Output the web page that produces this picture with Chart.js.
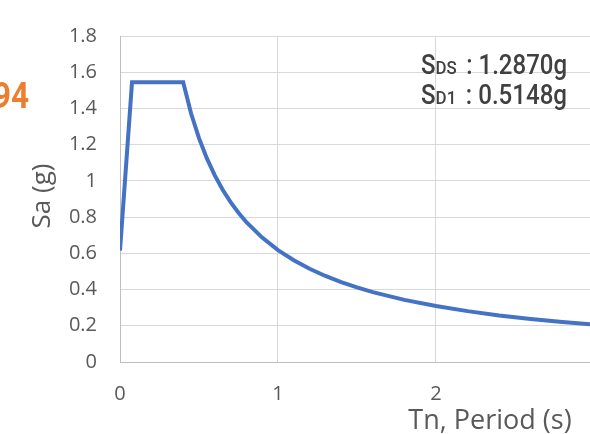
<!DOCTYPE html>
<html>
<head>
<meta charset="utf-8">
<script src="https://cdn.jsdelivr.net/npm/chart.js@4.4.1/dist/chart.umd.min.js"></script>
<style>
  html, body { margin: 0; padding: 0; background: #fff; overflow: hidden; }
  #wrap { width: 590px; height: 434px; position: relative; }
</style>
</head>
<body>
<div id="wrap"><canvas id="SpecChart"></canvas></div>
<script>
// design spectrum
const period = [0, 0.076, 0.40, 0.45, 0.50, 0.55, 0.60, 0.65, 0.70, 0.75, 0.80, 0.90, 1.0, 1.1, 1.2, 1.3, 1.4, 1.5, 1.6, 1.8, 2.0, 2.2, 2.4, 2.6, 2.8, 3.0];
const sa = [0.615, 1.544, 1.544, 1.372, 1.236, 1.124, 1.030, 0.951, 0.883, 0.824, 0.772, 0.687, 0.618, 0.562, 0.515, 0.475, 0.441, 0.412, 0.386, 0.343, 0.309, 0.281, 0.257, 0.238, 0.221, 0.206];
const yTicks = [0, 0.2, 0.4, 0.6, 0.8, 1, 1.2, 1.4, 1.6, 1.8];
const xTicks = [0, 1, 2];
const noteLines = [
	["S", "DS", " : 1.2870g"],
	["S", "D1", " : 0.5148g"],
];

const points = period.map((t, i) => ({ x: t, y: sa[i] }));

const textPlugin = {
	id: "texts",
	afterDraw(chart) {
		const c = chart.ctx;
		c.save();
		c.fillStyle = "#595959";
		// y title
		c.font = "26px 'Open Sans'";
		c.textAlign = "center";
		c.textBaseline = "middle";
		c.save();
		c.translate(43, 196);
		c.rotate(-Math.PI / 2);
		c.fillText("Sa (g)", 0, 0);
		c.restore();
		// x title
		c.font = "27px 'Open Sans'";
		c.fillText("Tn, Period (s)", 490, 421);

		// orange label cut at the left edge
		c.fillStyle = "#ED7D31";
		c.font = "bold 37px Roboto";
		c.textAlign = "right";
		c.textBaseline = "alphabetic";
		c.save();
		c.translate(29, 108);
		c.scale(0.85, 1);
		c.fillText("94", 0, 0);
		c.restore();

		// SDS / SD1 note
		c.fillStyle = "#404040";
		c.textAlign = "left";
		const big = "500 27px Roboto", small = "500 19px Roboto";
		const baselines = [74, 104];
		noteLines.forEach((parts, k) => {
			c.font = big; const w1 = c.measureText(parts[0]).width;
			c.font = small; const w2 = c.measureText(parts[1]).width;
			c.font = big; const w3 = c.measureText(parts[2]).width;
			const sx = 146 / (w1 + w2 + w3 + 4);
			c.save();
			c.translate(421, baselines[k]);
			c.scale(sx, 1);
			c.font = big; c.fillText(parts[0], 0, 0);
			c.font = small; c.fillText(parts[1], w1, 0);
			c.font = big; c.fillText(parts[2], w1 + w2 + 4, 0);
			c.restore();
		});
		c.restore();
	},
};

new Chart(document.getElementById("SpecChart"), {
	type: "line",
	data: {
		datasets: [
			{
				data: points,
				borderColor: "#4472C4",
				borderWidth: 4,
				pointRadius: 0,
				tension: 0,
				fill: false,
			},
		],
	},
	options: {
		responsive: true,
		maintainAspectRatio: false,
		animation: false,
		events: [],
		layout: { padding: { top: 36, left: 0, right: 0, bottom: 0 } },
		plugins: {
			legend: { display: false },
			tooltip: { enabled: false },
		},
		scales: {
			x: {
				type: "linear",
				min: 0,
				max: 2.975,
				afterBuildTicks(scale) {
					scale.ticks = xTicks.map((v) => ({ value: v }));
				},
				afterFit(scale) { scale.height = 72; },
				grid: { color: "#d9d9d9", lineWidth: 1, drawTicks: false },
				border: { color: "#bfbfbf", width: 1 },
				ticks: {
					color: "#595959",
					font: { family: "'Open Sans'", size: 20 },
					padding: 20,
					maxRotation: 0,
					callback: (v) => String(v),
				},
			},
			y: {
				min: 0,
				max: 1.8,
				afterBuildTicks(scale) {
					scale.ticks = yTicks.map((v) => ({ value: v }));
				},
				afterFit(scale) { scale.width = 120; },
				grid: { color: "#d9d9d9", lineWidth: 1, drawTicks: false },
				border: { color: "#bfbfbf", width: 1 },
				ticks: {
					color: "#595959",
					font: { family: "'Open Sans'", size: 20 },
					padding: 23,
					callback: (v) => String(v),
				},
			},
		},
	},
	plugins: [textPlugin],
});
</script>
</body>
</html>
